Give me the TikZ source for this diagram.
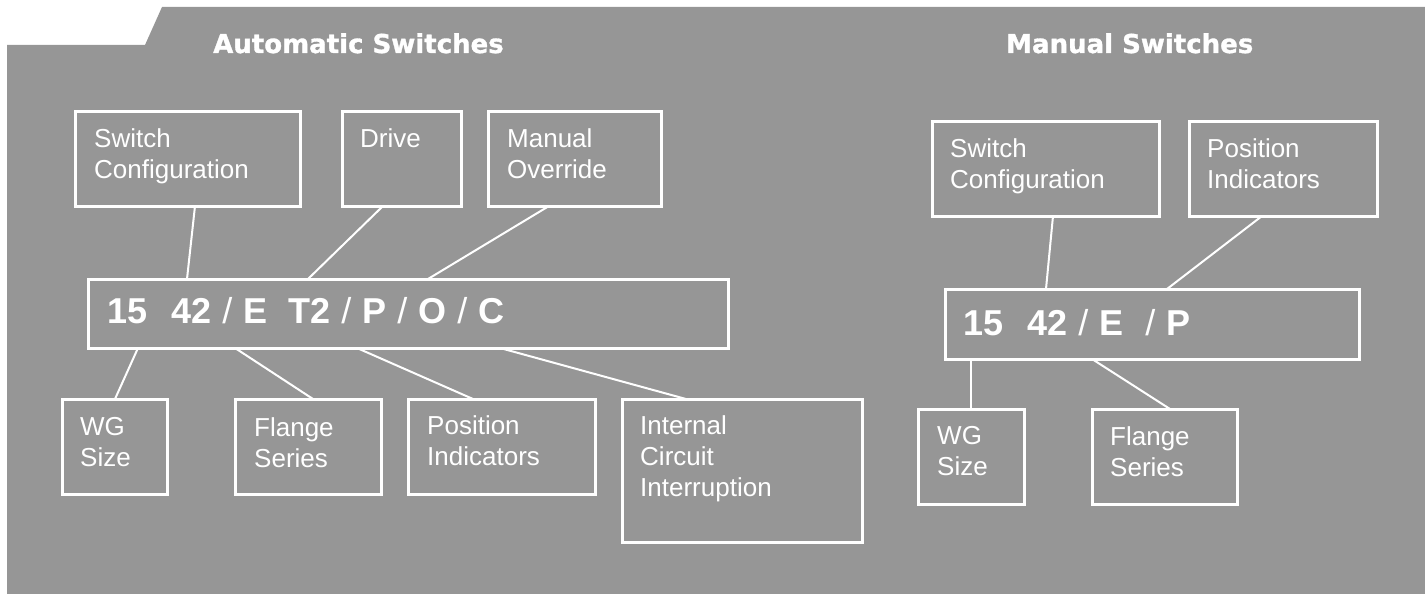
\documentclass[tikz,border=0pt]{standalone}
\usepackage{fontspec}
\setmainfont{Liberation Sans}
\newfontfamily\titlefont[BoldFeatures={FakeBold=1.2}]{DejaVu Sans}
\usetikzlibrary{calc}
\definecolor{bgc}{RGB}{150,150,150}
\newcommand\codesep{\hspace{11pt}/\hspace{11pt}}
\tikzset{
  box/.style={draw=white, line width=3pt, inner sep=0pt, outer sep=0pt, anchor=north west},
  lbl/.style={text=white, anchor=north west, inner sep=0pt, align=left, font=\fontsize{26}{31}\selectfont},
  codetxt/.style={text=white, anchor=base west, inner sep=0pt, font=\fontsize{36}{40}\selectfont},
  conn/.style={draw=white, line width=2pt},
  ttl/.style={text=white, anchor=base west, inner sep=0pt, font=\titlefont\bfseries\fontsize{26}{30}\selectfont}
}
\begin{document}
\begin{tikzpicture}[x=1pt,y=-1pt]
\useasboundingbox (0,0) rectangle (1425,594);
\fill[bgc] (7,45) -- (145,45) -- (162,7) -- (1425,7) -- (1425,594) -- (7,594) -- cycle;

% titles
\node[ttl] (tA) at (213,53) {Automatic Switches};
\node[ttl] (tM) at (1006,53) {Manual Switches};

% automatic: top boxes
\node[box, minimum width=225pt, minimum height=95pt] (asc) at (75,111) {};
\node[box, minimum width=119pt, minimum height=95pt] (adr) at (342,111) {};
\node[box, minimum width=173pt, minimum height=95pt] (amo) at (488,111) {};
\node[lbl] (asct) at (94,128) {Switch\\Configuration};
\node[lbl] (adrt) at (360,128) {Drive};
\node[lbl] (amot) at (507,128) {Manual\\Override};

% automatic code box
\node[box, minimum width=640pt, minimum height=69pt] (acode) at (88,279) {};
\node[codetxt] (acodet) at (107,323) {\textbf{15}\hspace{24pt}\textbf{42}\codesep\textbf{E}\hspace{21pt}\textbf{T2}\codesep\textbf{P}\codesep\textbf{O}\codesep\textbf{C}};

% automatic: bottom boxes
\node[box, minimum width=105pt, minimum height=95pt] (awg) at (62,399) {};
\node[box, minimum width=146pt, minimum height=95pt] (afl) at (235,399) {};
\node[box, minimum width=187pt, minimum height=95pt] (api) at (408,399) {};
\node[box, minimum width=240pt, minimum height=143pt] (aic) at (622,399) {};
\node[lbl] (awgt) at (80,417) {WG\\Size};
\node[lbl] (aflt) at (254,417) {Flange\\Series};
\node[lbl] (apit) at (427,415) {Position\\Indicators};
\node[lbl] (aict) at (640,415) {Internal\\Circuit\\Interruption};

% manual: top boxes
\node[box, minimum width=227pt, minimum height=95pt] (msc) at (932,121) {};
\node[box, minimum width=188pt, minimum height=95pt] (mpi) at (1189,121) {};
\node[lbl] (msct) at (950,138) {Switch\\Configuration};
\node[lbl] (mpit) at (1207,138) {Position\\Indicators};

% manual code box
\node[box, minimum width=414pt, minimum height=70pt] (mcode) at (945,289) {};
\node[codetxt] (mcodet) at (963,335) {\textbf{15}\hspace{24pt}\textbf{42}\codesep\textbf{E}\hspace{22pt}/\hspace{11pt}\textbf{P}};

% manual: bottom boxes
\node[box, minimum width=106pt, minimum height=95pt] (mwg) at (918,409) {};
\node[box, minimum width=145pt, minimum height=95pt] (mfl) at (1092,409) {};
\node[lbl] (mwgt) at (937,426) {WG\\Size};
\node[lbl] (mflt) at (1110,426) {Flange\\Series};

% connectors automatic
\draw[conn] ([xshift=120pt]asc.south west) -- ([xshift=99pt]acode.north west);
\draw[conn] ([xshift=41pt]adr.south west) -- ([xshift=220pt]acode.north west);
\draw[conn] ([xshift=61pt]amo.south west) -- ([xshift=340pt]acode.north west);
\draw[conn] ([xshift=50pt]acode.south west) -- ([xshift=53pt]awg.north west);
\draw[conn] ([xshift=147pt]acode.south west) -- ([xshift=78pt]afl.north west);
\draw[conn] ([xshift=269pt]acode.south west) -- ([xshift=65pt]api.north west);
\draw[conn] ([xshift=412pt]acode.south west) -- ([xshift=64pt]aic.north west);

% connectors manual
\draw[conn] ([xshift=121pt]msc.south west) -- ([xshift=101pt]mcode.north west);
\draw[conn] ([xshift=73pt]mpi.south west) -- ([xshift=222pt]mcode.north west);
\draw[conn] ([xshift=26pt]mcode.south west) -- ([xshift=53pt]mwg.north west);
\draw[conn] ([xshift=147pt]mcode.south west) -- ([xshift=78pt]mfl.north west);
\end{tikzpicture}
\end{document}
